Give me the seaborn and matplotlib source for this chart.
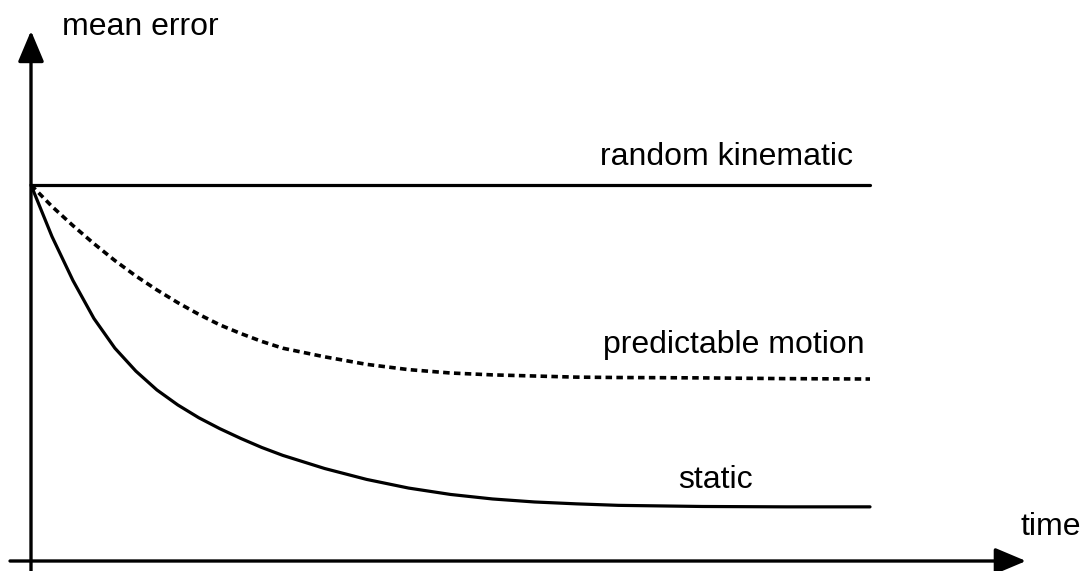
import matplotlib
matplotlib.use('Agg')
import matplotlib.pyplot as plt
import pandas as pd
import seaborn as sns

# valores (tempo em unidades arbitrárias, erro normalizado)
TEMPO = [0, 0.25, 0.5, 0.75, 1, 1.25, 1.5, 1.75, 2, 2.25, 2.5, 2.75, 3,
         3.5, 4, 4.5, 5, 5.5, 6, 6.5, 7, 8, 9, 10]
ERRO_STATIC = [1.0, 0.863, 0.746, 0.645, 0.566, 0.505, 0.455, 0.415, 0.381,
               0.352, 0.326, 0.302, 0.281, 0.246, 0.217, 0.194, 0.177, 0.165,
               0.157, 0.152, 0.148, 0.145, 0.144, 0.144]
ERRO_PREDICTABLE = [1.0, 0.943, 0.892, 0.844, 0.799, 0.758, 0.721, 0.687, 0.656,
                    0.628, 0.605, 0.584, 0.566, 0.543, 0.523, 0.509, 0.500, 0.495,
                    0.492, 0.489, 0.488, 0.487, 0.485, 0.484]
TEMPO_RANDOM = [0, 10]
ERRO_RANDOM = [1.0, 1.0]

ROTULO_RANDOM = 'random kinematic'
ROTULO_PREDICTABLE = 'predictable motion'
ROTULO_STATIC = 'static'
ROTULO_Y = 'mean error'
ROTULO_X = 'time'


def montar_dados():
    partes = [
        pd.DataFrame({'tempo': TEMPO_RANDOM, 'erro': ERRO_RANDOM, 'serie': ROTULO_RANDOM}),
        pd.DataFrame({'tempo': TEMPO, 'erro': ERRO_PREDICTABLE, 'serie': ROTULO_PREDICTABLE}),
        pd.DataFrame({'tempo': TEMPO, 'erro': ERRO_STATIC, 'serie': ROTULO_STATIC}),
    ]
    return pd.concat(partes, ignore_index=True)


def main():
    sns.set_style('white')
    plt.rcParams['font.family'] = ['Liberation Sans', 'DejaVu Sans']
    plt.rcParams['font.size'] = 23
    plt.rcParams['text.color'] = 'black'

    df = montar_dados()

    fig = plt.figure(figsize=(10.82, 5.71), dpi=100)
    ax = fig.add_axes([0, 0, 1, 1])

    sns.lineplot(
        data=df,
        x='tempo',
        y='erro',
        hue='serie',
        style='serie',
        palette={ROTULO_RANDOM: 'black', ROTULO_PREDICTABLE: 'black', ROTULO_STATIC: 'black'},
        dashes={ROTULO_RANDOM: '', ROTULO_PREDICTABLE: (1.8, 1.2), ROTULO_STATIC: ''},
        linewidth=2.3,
        legend=False,
        ax=ax,
    )
    for linha in ax.lines:
        linha.set_solid_joinstyle('round')
        linha.set_dash_joinstyle('round')
    ax.lines[1].set_linewidth(2.6)

    # escala: 83.9 px por unidade de tempo, 376 px por unidade de erro
    ax.set_xlim(-31 / 83.9, (1082 - 31) / 83.9)
    ax.set_ylim(-10 / 376, 561 / 376)
    ax.axis('off')

    estilo_seta = dict(
        arrowstyle='-|>,head_length=0.95,head_width=0.4',
        mutation_scale=20,
        lw=2.4,
        color='black',
        shrinkA=0,
        shrinkB=0,
    )
    ax.annotate('', xy=(0, 1.41), xytext=(0, -0.03), arrowprops=estilo_seta)
    ax.annotate('', xy=(11.86, 0), xytext=(-0.25, 0), arrowprops=estilo_seta)

    ax.text(0.37, 1.40, ROTULO_Y, ha='left', va='baseline')
    ax.text(11.79, 0.069, ROTULO_X, ha='left', va='baseline')
    ax.text(9.8, 1.053, ROTULO_RANDOM, ha='right', va='baseline')
    ax.text(9.94, 0.553, ROTULO_PREDICTABLE, ha='right', va='baseline')
    ax.text(7.71, 0.194, ROTULO_STATIC, ha='left', va='baseline')

    fig.savefig('out.png', dpi=100)
    plt.close(fig)


if __name__ == '__main__':
    main()
